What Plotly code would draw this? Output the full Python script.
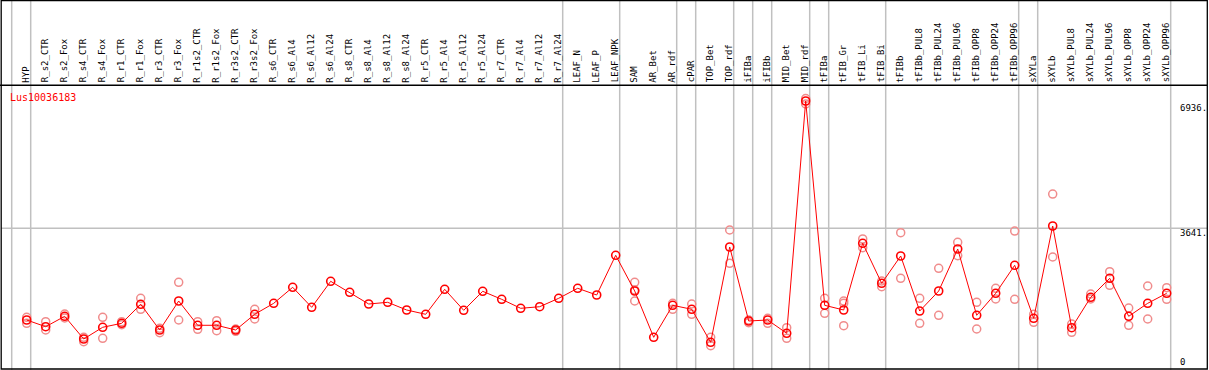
import plotly.graph_objects as go

categories = ["HYP", "R_s2_CTR", "R_s2_Fox", "R_s4_CTR", "R_s4_Fox", "R_r1_CTR", "R_r1_Fox",
              "R_r3_CTR", "R_r3_Fox", "R_r1s2_CTR", "R_r1s2_Fox", "R_r3s2_CTR", "R_r3s2_Fox",
              "R_s6_CTR", "R_s6_Al4", "R_s6_Al12", "R_s6_Al24", "R_s8_CTR", "R_s8_Al4",
              "R_s8_Al12", "R_s8_Al24", "R_r5_CTR", "R_r5_Al4", "R_r5_Al12", "R_r5_Al24",
              "R_r7_CTR", "R_r7_Al4", "R_r7_Al12", "R_r7_Al24", "LEAF_N", "LEAF_P", "LEAF_NPK",
              "SAM", "AR_Bet", "AR_rdf", "cPAR", "TOP_Bet", "TOP_rdf", "iFIBa", "iFIBb",
              "MID_Bet", "MID_rdf", "tFIBa", "tFIB_Gr", "tFIB_Li", "tFIB_Bi", "tFIBb",
              "tFIBb_PUL8", "tFIBb_PUL24", "tFIBb_PUL96", "tFIBb_OPP8", "tFIBb_OPP24",
              "tFIBb_OPP96", "sXYLa", "sXYLb", "sXYLb_PUL8", "sXYLb_PUL24", "sXYLb_PUL96",
              "sXYLb_OPP8", "sXYLb_OPP24", "sXYLb_OPP96"]

mean_values = [1213, 1036, 1311, 710, 1020, 1126, 1629, 948, 1716, 1073, 1073, 948, 1364,
               1655, 2079, 1549, 2238, 1947, 1637, 1682, 1478, 1364, 2026, 1470, 1973,
               1761, 1523, 1565, 1788, 2053, 1875, 2927, 1981, 755, 1602, 1497, 622, 3147,
               1187, 1213, 861, 7014, 1602, 1478, 3245, 2185, 2908, 1451, 1981, 3094, 1338,
               1920, 2662, 1258, 3703, 1009, 1814, 2318, 1311, 1655, 1920]

replicates = [[1285, 1126], [1168, 948], [1372, 1266], [755, 638], [1285, 728], [1168, 1089],
              [1788, 1497], [993, 877], [2212, 1213], [1168, 967], [1195, 930], [975, 914],
              [1497, 1240], [], [], [], [], [], [], [], [], [], [], [], [], [], [], [], [],
              [], [], [], [2212, 1716, 2008], [], [1655, 1497], [1637, 1364], [755, 532],
              [3597, 2715], [1213, 1142], [1258, 1126], [1009, 728], [7080, 6936],
              [1788, 1391], [1716, 1655, 1062], [3359, 3128], [2246, 2095], [3525, 2318],
              [1788, 1126], [2583, 1338], [3271, 2916], [1682, 975], [2053, 1769],
              [3570, 1761], [1364, 1152], [4550, 2882], [1107, 887], [1902, 1769],
              [2492, 2132], [1531, 1073], [2114, 1240], [2069, 1761]]

group_breaks_after = [-1, 0, 28, 31, 34, 35, 37, 38, 39, 41, 42, 45, 52, 53, 60]
y_tick_values = [6936, 3641, 0]
y_tick_labels = ["6936.", "3641.", "0"]
gene_name = "Lus10036183"

W, H = 1209, 370
idx = list(range(len(categories)))

rep_x, rep_y = [], []
for i, reps in enumerate(replicates):
    for v in reps:
        rep_x.append(i)
        rep_y.append(v)

fig = go.Figure()
fig.add_trace(go.Scatter(
    x=rep_x, y=rep_y, mode="markers",
    marker=dict(symbol="circle-open", size=8, color="rgb(240,140,140)",
                line=dict(width=1.5, color="rgb(240,140,140)")),
    hoverinfo="skip", showlegend=False))
fig.add_trace(go.Scatter(
    x=idx, y=mean_values, mode="lines+markers",
    line=dict(color="#ff0000", width=1),
    marker=dict(symbol="circle-open", size=8, color="#ff0000",
                line=dict(width=1.6, color="#ff0000")),
    showlegend=False))

# axis ranges chosen so category i sits at pixel 26.7 + 19*i, value 0 at pixel 365.8
px_per_cat = 19.0
x0_px = 26.7
xmin = -x0_px / px_per_cat
xmax = (W - x0_px) / px_per_cat
px_per_unit = 0.037754
zero_px = 365.8
ymin = -(H - zero_px) / px_per_unit
ymax = zero_px / px_per_unit

shapes = []
# group separators
for b in group_breaks_after:
    shapes.append(dict(type="line", xref="x", yref="paper", x0=b + 4 / px_per_cat,
                       x1=b + 4 / px_per_cat, y0=0, y1=1,
                       line=dict(color="rgb(192,192,192)", width=1.5), layer="below"))
# horizontal reference line at middle tick
shapes.append(dict(type="line", xref="paper", yref="y", x0=1 / W, x1=1207 / W,
                   y0=y_tick_values[1], y1=y_tick_values[1],
                   line=dict(color="rgb(192,192,192)", width=1.5), layer="below"))
# header separator
shapes.append(dict(type="line", xref="paper", yref="paper", x0=0, x1=1207 / W,
                   y0=1 - 85.3 / H, y1=1 - 85.3 / H, line=dict(color="black", width=1.5)))
# outer frame
shapes.append(dict(type="rect", xref="paper", yref="paper", x0=1.2 / W, x1=1207.3 / W,
                   y0=1 - 369 / H, y1=1 - 0.6 / H, line=dict(color="black", width=1.3)))

annotations = []
for i, c in enumerate(categories):
    annotations.append(dict(x=i, y=1 - 83.5 / H, xref="x", yref="paper", text=c,
                            textangle=-90, showarrow=False, xanchor="center",
                            yanchor="bottom", xshift=-1, borderpad=0,
                            font=dict(family="DejaVu Sans Mono", size=9, color="black")))
shifts = [-4.4, -4.4, 3.5]
for v, t, s in zip(y_tick_values, y_tick_labels, shifts):
    annotations.append(dict(x=1179 / W, y=v, xref="paper", yref="y", text=t,
                            showarrow=False, xanchor="left", yanchor="middle",
                            yshift=s, borderpad=0,
                            font=dict(family="DejaVu Sans Mono", size=9, color="black")))
annotations.append(dict(x=9 / W, y=1 - 97.3 / H, xref="paper", yref="paper", text=gene_name,
                        showarrow=False, xanchor="left", yanchor="middle", borderpad=0,
                        font=dict(family="DejaVu Sans Mono", size=10, color="#ff0000")))

fig.update_layout(
    width=W, height=H, margin=dict(l=0, r=0, t=0, b=0),
    paper_bgcolor="white", plot_bgcolor="white",
    xaxis=dict(range=[xmin, xmax], visible=False, showgrid=False, zeroline=False),
    yaxis=dict(range=[ymin, ymax], visible=False, showgrid=False, zeroline=False),
    shapes=shapes, annotations=annotations, showlegend=False)

fig.write_html("out.html", config={"displayModeBar": False},
               post_script="document.body.style.margin='0';document.body.style.padding='0';"
                           "document.body.style.overflow='hidden';")
